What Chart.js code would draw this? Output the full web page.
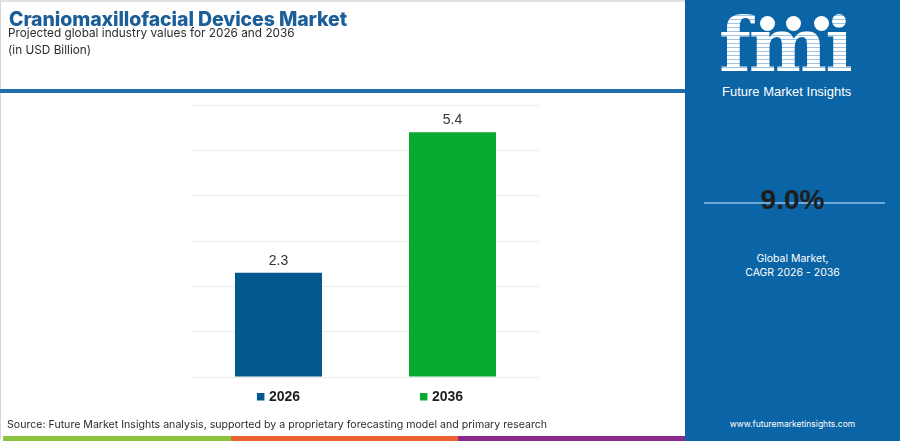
<!DOCTYPE html>
<html>
<head>
    <meta charset="utf-8" />
    <title>Craniomaxillofacial Devices Market</title>
    <script src="https://cdn.jsdelivr.net/npm/chart.js@4.4.1/dist/chart.umd.min.js"></script>
    <style>
        html, body { margin: 0; padding: 0; }
        body { width: 900px; height: 441px; position: relative; overflow: hidden; background: #fff; font-family: "Inter", "Open Sans", sans-serif; }
        #frame { position: absolute; left: 0; top: 0; width: 898px; height: 439px; border-top: 2px solid #e2e2e2; border-left: 1px solid #d8d8d8; box-sizing: border-box; }
        #title { position: absolute; left: 9px; top: 7px; font-size: 19.5px; font-weight: 800; color: #1b5e98; letter-spacing: -0.1px; }
        #sub1 { position: absolute; left: 8px; top: 26px; font-size: 11.8px; color: #2c2c2c; }
        #sub2 { position: absolute; left: 8px; top: 43px; font-size: 11.8px; color: #2c2c2c; }
        #rule { position: absolute; left: 0; top: 89px; width: 686px; height: 4px; background: #1f6dab; }
        #panel { position: absolute; left: 685px; top: 0; width: 215px; height: 441px; background: #0b64a5; }
        #logo { position: absolute; left: 34px; top: 8px; font-family: "DejaVu Serif", serif; font-weight: bold; font-size: 74px; line-height: 74px; letter-spacing: -2px;
            color: transparent; background: repeating-linear-gradient(#ffffff 0 3px, #9cc3e3 3px 4px); -webkit-background-clip: text; background-clip: text; }
        .globe { position: absolute; top: 16px; width: 15px; height: 15px; border-radius: 50%; background: #fff; }
        #brand { position: absolute; left: 37px; top: 84px; font-family: "Liberation Sans", Arial, sans-serif; font-size: 13px; color: #fff; }
        #cagrline { position: absolute; left: 19px; top: 202px; width: 181px; height: 2px; background: #6fa9d8; }
        #cagr { position: absolute; left: 0; width: 215px; top: 184px; text-align: center; font-family: "Liberation Sans", Arial, sans-serif; font-weight: bold; font-size: 28px; color: #1d1d1d; }
        #cagrtxt { position: absolute; left: 0; width: 215px; top: 252px; text-align: center; font-size: 10.5px; line-height: 14px; color: #fff; }
        #url { position: absolute; left: 0; width: 215px; top: 419px; text-align: center; font-size: 8.5px; color: #fff; }
        #source { position: absolute; left: 7px; top: 418px; font-size: 10.6px; color: #2c2c2c; }
        .stripe { position: absolute; top: 436px; height: 5px; }
        #chartBox { position: absolute; left: 0; top: 0; width: 685px; height: 441px; }
    </style>
</head>
<body>
    <div id="frame"></div>
    <div id="chartBox"><canvas id="myChart" width="685" height="441"></canvas></div>
    <div id="title">Craniomaxillofacial Devices Market</div>
    <div id="sub1">Projected global industry values for 2026 and 2036</div>
    <div id="sub2">(in USD Billion)</div>
    <div id="rule"></div>

    <div id="panel">
        <div id="logo">fmi</div>
        <div class="globe" style="left:75px"></div>
        <div class="globe" style="left:101px"></div>
        <div class="globe" style="left:129px"></div>
        <div id="brand">Future Market Insights</div>
        <div id="cagrline"></div>
        <div id="cagr">9.0%</div>
        <div id="cagrtxt">Global Market,<br>CAGR 2026 - 2036</div>
        <div id="url">www.futuremarketinsights.com</div>
    </div>

    <div id="source">Source: Future Market Insights analysis, supported by a proprietary forecasting model and primary research</div>
    <div class="stripe" style="left:3px;width:228px;background:#8cc43f"></div>
    <div class="stripe" style="left:231px;width:227px;background:#ec6231"></div>
    <div class="stripe" style="left:458px;width:227px;background:#8b2a8c"></div>

    <script>
        // chart data
        var years = ["2026", "2036"];
        var values = [2.3, 5.4];
        var barColors = ["#03588e", "#07aa2e"];
        var yMax = 6;

        // value labels above bars + square legend under each bar
        var labelPlugin = {
            id: 'labelPlugin',
            afterDatasetsDraw: function(chart) {
                var ctx = chart.ctx;
                var meta = chart.getDatasetMeta(0);
                ctx.save();
                meta.data.forEach(function(bar, i) {
                    ctx.font = '14px "Liberation Sans", Arial, sans-serif';
                    ctx.fillStyle = '#333';
                    ctx.textAlign = 'center';
                    ctx.textBaseline = 'bottom';
                    ctx.fillText(values[i].toFixed(1), bar.x, bar.y - 5);

                    // legend entry sits a little left of the second bar in the original
                    ctx.font = 'bold 14px "Liberation Sans", Arial, sans-serif';
                    var w = ctx.measureText(years[i]).width;
                    var total = 7 + 5 + w;
                    var x0 = bar.x - total / 2 - (i === 1 ? 11 : 0);
                    var yc = chart.chartArea.bottom + 20;
                    ctx.fillStyle = barColors[i];
                    ctx.fillRect(x0, yc - 4, 7.5, 7.5);
                    ctx.fillStyle = '#1e1e1e';
                    ctx.textAlign = 'left';
                    ctx.textBaseline = 'middle';
                    ctx.fillText(years[i], x0 + 12, yc);
                });
                ctx.restore();
            }
        };

        var ctx = document.getElementById('myChart').getContext('2d');
        var chart = new Chart(ctx, {
            type: 'bar',
            data: {
                labels: years,
                datasets: [{
                    data: values,
                    backgroundColor: barColors,
                    barPercentage: 0.5,
                    categoryPercentage: 1.0
                }]
            },
            options: {
                responsive: false,
                animation: false,
                devicePixelRatio: 1,
                layout: { padding: { left: 191.5, right: 145.5, top: 105, bottom: 56 } },
                plugins: { legend: { display: false }, tooltip: { enabled: false } },
                scales: {
                    x: {
                        ticks: { display: false },
                        grid: { display: false },
                        border: { display: false }
                    },
                    y: {
                        min: 0,
                        max: yMax,
                        ticks: { display: false, stepSize: 1 },
                        grid: { color: '#ececec', lineWidth: 1, drawTicks: false },
                        border: { display: false }
                    }
                }
            },
            plugins: [labelPlugin]
        });
    </script>
</body>
</html>
